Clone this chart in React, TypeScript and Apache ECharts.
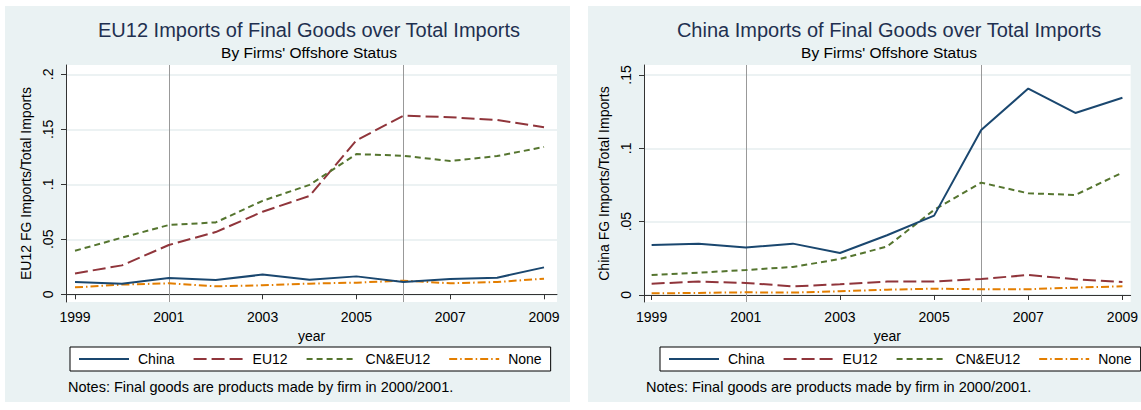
import React, { useEffect, useRef } from "react";
import * as echarts from "echarts";

const years = [1999, 2000, 2001, 2002, 2003, 2004, 2005, 2006, 2007, 2008, 2009];
const xTickYears = [1999, 2001, 2003, 2005, 2007, 2009];
const seriesNames = ["China", "EU12", "CN&EU12", "None"];

// Left panel: EU12 FG imports / total imports
const euChina = [0.0112, 0.0097, 0.0148, 0.013, 0.0179, 0.0133, 0.0163, 0.0112, 0.0139, 0.0151, 0.0245];
const euEU12 = [0.019, 0.0263, 0.0448, 0.0566, 0.0751, 0.0894, 0.14, 0.1624, 0.161, 0.1585, 0.152];
const euBoth = [0.0396, 0.0515, 0.063, 0.0654, 0.085, 0.0995, 0.1275, 0.126, 0.1212, 0.1257, 0.134];
const euNone = [0.0063, 0.0088, 0.01, 0.0073, 0.0082, 0.0097, 0.0106, 0.0124, 0.01, 0.0112, 0.0142];
const euYTicks = [0, 0.05, 0.1, 0.15, 0.2];

// Right panel: China FG imports / total imports
const cnChina = [0.0341, 0.035, 0.0323, 0.035, 0.0286, 0.0407, 0.0541, 0.1125, 0.1407, 0.1241, 0.1345];
const cnEU12 = [0.0077, 0.0091, 0.0082, 0.0059, 0.0073, 0.0091, 0.0091, 0.0109, 0.0136, 0.0107, 0.0089];
const cnBoth = [0.0136, 0.0152, 0.017, 0.0191, 0.0245, 0.033, 0.058, 0.0766, 0.0693, 0.0682, 0.0834];
const cnNone = [0.0011, 0.0014, 0.0018, 0.0016, 0.0025, 0.0036, 0.0043, 0.0039, 0.0039, 0.005, 0.0059];
const cnYTicks = [0, 0.05, 0.1, 0.15];

const refYears = [2001, 2006];

const FONT = "'Liberation Sans', Arial, Helvetica, sans-serif";
const colors = ["#1a476f", "#90353b", "#55752f", "#e37e00"];
const dashes: any[] = ["solid", [13, 5], [6, 4], [8, 3, 1.5, 3]];

function fmtY(v: number) {
  if (Math.abs(v) < 1e-9) return "0";
  return String(Math.round(v * 1000) / 1000).replace(/^0/, "");
}

export default function App() {
  const ref = useRef<HTMLDivElement>(null);
  useEffect(() => {
    const chart = echarts.init(ref.current!, undefined, { renderer: "svg" });
    const panels = [
      {
        title: "EU12 Imports of Final Goods over Total Imports",
        yName: "EU12 FG Imports/Total Imports",
        data: [euChina, euEU12, euBoth, euNone],
        yTicks: euYTicks,
        xMin: 1998.808, xMax: 2009.277, yMin: -0.007, yMax: 0.2085,
        bgLeft: 5, bgWidth: 565, gridLeft: 66, titleX: 309, legendLeft: 70, notesLeft: 68,
      },
      {
        title: "China Imports of Final Goods over Total Imports",
        yName: "China FG Imports/Total Imports",
        data: [cnChina, cnEU12, cnBoth, cnNone],
        yTicks: cnYTicks,
        xMin: 1998.838, xMax: 2009.175, yMin: -0.0048, yMax: 0.1568,
        bgLeft: 588, bgWidth: 553, gridLeft: 644, titleX: 889, legendLeft: 660, notesLeft: 646,
      },
    ];

    const option: any = {
      animation: false,
      textStyle: { fontFamily: FONT },
      graphic: panels.map((p) => ({
        type: "rect",
        silent: true,
        z: -10,
        shape: { x: p.bgLeft, y: 6, width: p.bgWidth, height: 396 },
        style: { fill: "#eaf2f3" },
      })),
      title: panels.flatMap((p) => [
        {
          text: p.title,
          subtext: "By Firms' Offshore Status",
          left: p.titleX,
          top: 18,
          textAlign: "center",
          itemGap: 2,
          padding: 0,
          textStyle: { fontFamily: FONT, fontSize: 20, fontWeight: "normal", color: "#1f3050", lineHeight: 24 },
          subtextStyle: { fontFamily: FONT, fontSize: 15.5, color: "#000", lineHeight: 17 },
        },
        {
          text: "Notes: Final goods are products made by firm in 2000/2001.",
          left: p.notesLeft,
          top: 379,
          padding: 0,
          textStyle: { fontFamily: FONT, fontSize: 14.5, fontWeight: "normal", color: "#000" },
        },
      ]),
      legend: panels.map((p) => ({
        data: seriesNames,
        left: p.legendLeft,
        top: 347,
        width: 520,
        orient: "horizontal",
        itemWidth: 50,
        itemHeight: 14,
        itemGap: 18,
        padding: [5, 9, 5, 8],
        borderColor: "#000",
        borderWidth: 1,
        backgroundColor: "#fff",
        borderRadius: 0,
        selectedMode: false,
        itemStyle: { opacity: 0 },
        lineStyle: { opacity: 1 },
        textStyle: { fontFamily: FONT, fontSize: 14, color: "#000", padding: [0, 0, 0, 4] },
      })),
      grid: panels.map((p) => ({
        left: p.gridLeft,
        top: 65,
        width: 491,
        height: 237,
        show: true,
        backgroundColor: "#fff",
        borderWidth: 0,
      })),
      xAxis: panels.map((p, i) => ({
        type: "value",
        gridIndex: i,
        min: p.xMin,
        max: p.xMax,
        name: "year",
        nameLocation: "middle",
        nameGap: 24,
        nameTextStyle: { fontFamily: FONT, fontSize: 14, color: "#000" },
        axisLine: { show: true, lineStyle: { color: "#333", width: 1 } },
        axisTick: { show: true, inside: false, length: 5, customValues: xTickYears, lineStyle: { color: "#333" } },
        axisLabel: { customValues: xTickYears, margin: 8, fontSize: 14, color: "#000", fontFamily: FONT, formatter: (v: number) => String(Math.round(v)) },
        splitLine: { show: false },
      })),
      yAxis: panels.map((p, i) => ({
        type: "value",
        gridIndex: i,
        min: p.yMin,
        max: p.yMax,
        name: p.yName,
        nameLocation: "middle",
        nameRotate: 90,
        nameGap: 33,
        nameTextStyle: { fontFamily: FONT, fontSize: 14, color: "#000" },
        axisLine: { show: true, lineStyle: { color: "#333", width: 1 } },
        axisTick: { show: true, inside: false, length: 5, customValues: p.yTicks, lineStyle: { color: "#333" } },
        axisLabel: { customValues: p.yTicks, rotate: 90, margin: 11, fontSize: 14, color: "#000", fontFamily: FONT, formatter: fmtY },
        splitLine: { show: true, lineStyle: { color: "#e6eeef", width: 1.5 } },
      })),
      series: panels.flatMap((p, i) =>
        seriesNames.map((name, k) => ({
          type: "line",
          name,
          xAxisIndex: i,
          yAxisIndex: i,
          data: years.map((y, j) => [y, p.data[k][j]]),
          symbol: "circle",
          showSymbol: false,
          color: colors[k],
          lineStyle: { color: colors[k], width: 2, type: dashes[k] },
          z: 3 + (k === 0 ? 1 : 0),
          markLine:
            k === 0
              ? {
                  silent: true,
                  symbol: "none",
                  label: { show: false },
                  lineStyle: { color: "#999", width: 1, type: "solid" },
                  data: refYears.map((y) => ({ xAxis: y })),
                  z: 1,
                }
              : undefined,
        }))
      ),
    };
    chart.setOption(option);
    return () => chart.dispose();
  }, []);
  return <div ref={ref} style={{ position: "fixed", left: 0, top: 0, width: 1141, height: 410, background: "#fff" }} />;
}
